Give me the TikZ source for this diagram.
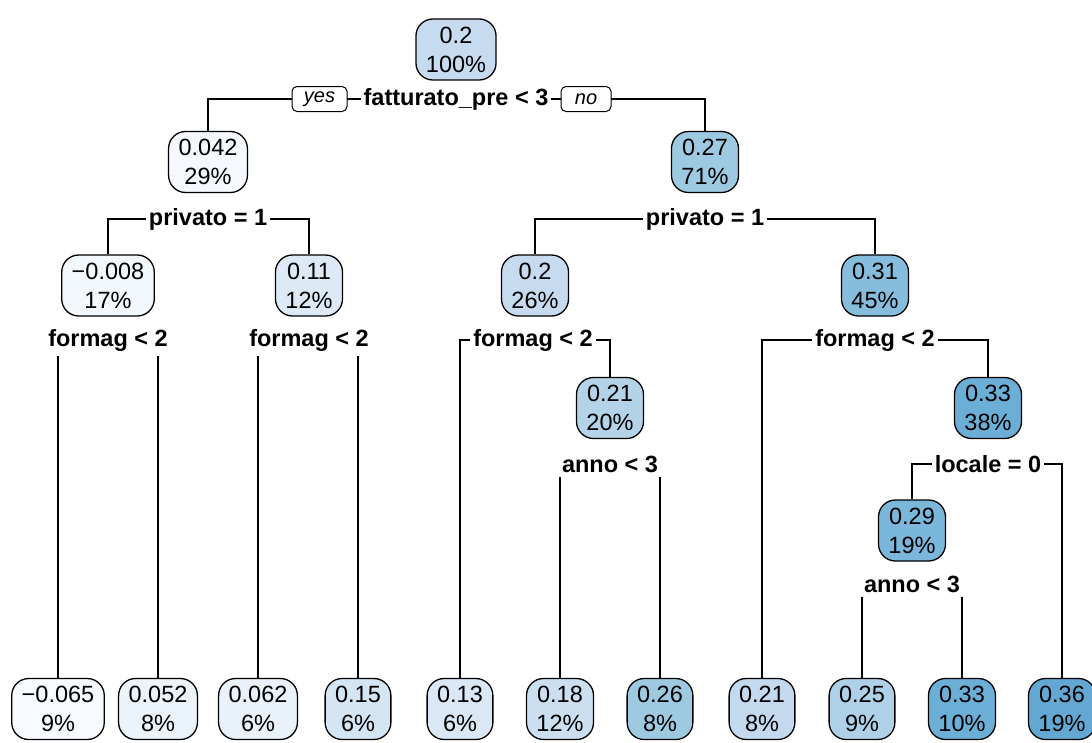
\documentclass[tikz,border=0pt]{standalone}
\usepackage{fontspec}
\setmainfont{Liberation Sans}
\definecolor{f00}{HTML}{C6DBEF}
\definecolor{f01}{HTML}{F5F9FE}
\definecolor{f02}{HTML}{9ECAE1}
\definecolor{f03}{HTML}{F3F8FD}
\definecolor{f04}{HTML}{DDEAF6}
\definecolor{f05}{HTML}{C6DBEF}
\definecolor{f06}{HTML}{86BDDC}
\definecolor{f07}{HTML}{B4D3E9}
\definecolor{f08}{HTML}{6BAED6}
\definecolor{f09}{HTML}{7BB7DA}
\definecolor{g01}{HTML}{F7FBFF}
\definecolor{g02}{HTML}{EBF3FB}
\definecolor{g03}{HTML}{E9F2FA}
\definecolor{g04}{HTML}{D4E5F4}
\definecolor{g05}{HTML}{DAE8F5}
\definecolor{g06}{HTML}{CCDFF1}
\definecolor{g07}{HTML}{9DCAE1}
\definecolor{g08}{HTML}{C2D9EE}
\definecolor{g09}{HTML}{AFD1E7}
\definecolor{g10}{HTML}{6BAED6}
\definecolor{g11}{HTML}{63A8D3}
\tikzset{
  valbox/.style={draw, line width=1.3pt, rounded corners=17pt, align=center,
    minimum height=61pt, minimum width=62pt, inner xsep=10pt, inner ysep=4pt,
    font=\fontsize{23.5}{29}\selectfont},
  splitlab/.style={fill=white, inner xsep=3pt, inner ysep=5pt,
    font=\bfseries\fontsize{23.5}{28}\selectfont},
  dirbox/.style={draw, fill=white, line width=1pt, rounded corners=5pt,
    minimum width=50pt, minimum height=25pt, inner sep=2pt,
    font=\itshape\fontsize{20}{22}\selectfont},
  edge/.style={line width=1.3pt}
}
\begin{document}
\begin{tikzpicture}[x=1pt, y=-1pt]
\useasboundingbox (0,0) rectangle (1092,742);

% internal nodes
\node[valbox, fill=f00] (root) at (456,49.5) {0.2\\100\%};
\node[valbox, fill=f01] (a)    at (208,162) {0.042\\29\%};
\node[valbox, fill=f02] (b)    at (705,162) {0.27\\71\%};
\node[valbox, fill=f03] (aa)   at (108,285.5) {−0.008\\17\%};
\node[valbox, fill=f04] (ab)   at (309,285.5) {0.11\\12\%};
\node[valbox, fill=f05] (ba)   at (535,285.5) {0.2\\26\%};
\node[valbox, fill=f06] (bb)   at (875,285.5) {0.31\\45\%};
\node[valbox, fill=f07] (bab)  at (610,408) {0.21\\20\%};
\node[valbox, fill=f08] (bbb)  at (988,408) {0.33\\38\%};
\node[valbox, fill=f09] (bbba) at (912,530.5) {0.29\\19\%};

% leaves
\node[valbox, fill=g01] (L1)  at (58,709)   {−0.065\\9\%};
\node[valbox, fill=g02] (L2)  at (158,709)  {0.052\\8\%};
\node[valbox, fill=g03] (L3)  at (258,709)  {0.062\\6\%};
\node[valbox, fill=g04] (L4)  at (358,709)  {0.15\\6\%};
\node[valbox, fill=g05] (L5)  at (460,709)  {0.13\\6\%};
\node[valbox, fill=g06] (L6)  at (560,709)  {0.18\\12\%};
\node[valbox, fill=g07] (L7)  at (660,709)  {0.26\\8\%};
\node[valbox, fill=g08] (L8)  at (762,709)  {0.21\\8\%};
\node[valbox, fill=g09] (L9)  at (862,709)  {0.25\\9\%};
\node[valbox, fill=g10] (L10) at (962,709)  {0.33\\10\%};
\node[valbox, fill=g11] (L11) at (1062,709) {0.36\\19\%};

% split positions
\coordinate (c0) at (456,99);
\coordinate (c1) at (208,219);
\coordinate (c2) at (705,219);
\coordinate (c3) at (108,340);
\coordinate (c4) at (309,340);
\coordinate (c5) at (533,340);
\coordinate (c6) at (875,340);
\coordinate (c7) at (610,464);
\coordinate (c8) at (988,464);
\coordinate (c9) at (912,584);

% branches
\draw[edge] (a.north) |- (c0) -| (b.north);
\draw[edge] (aa.north) |- (c1) -| (ab.north);
\draw[edge] (ba.north) |- (c2) -| (bb.north);
\draw[edge] (L1.north) |- (c3) -| (L2.north);
\draw[edge] (L3.north) |- (c4) -| (L4.north);
\draw[edge] (L5.north) |- (c5) -| (bab.north);
\draw[edge] (L8.north) |- (c6) -| (bbb.north);
\draw[edge] (L6.north) |- (c7) -| (L7.north);
\draw[edge] (bbba.north) |- (c8) -| (L11.north);
\draw[edge] (L9.north) |- (c9) -| (L10.north);

% split labels
\node[splitlab] (s0) at (c0) {fatturato\_pre < 3};
\node[splitlab] (s1) at (c1) {privato = 1};
\node[splitlab] (s2) at (c2) {privato = 1};
\node[splitlab] (s3) at (c3) {formag < 2};
\node[splitlab] (s4) at (c4) {formag < 2};
\node[splitlab] (s5) at (c5) {formag < 2};
\node[splitlab] (s6) at (c6) {formag < 2};
\node[splitlab] (s7) at (c7) {anno < 3};
\node[splitlab] (s8) at (c8) {locale = 0};
\node[splitlab] (s9) at (c9) {anno < 3};

\node[dirbox, minimum width=55pt] (yes) at (319.5,99) {yes};
\node[dirbox] (no) at (586,99) {no};
\end{tikzpicture}
\end{document}
